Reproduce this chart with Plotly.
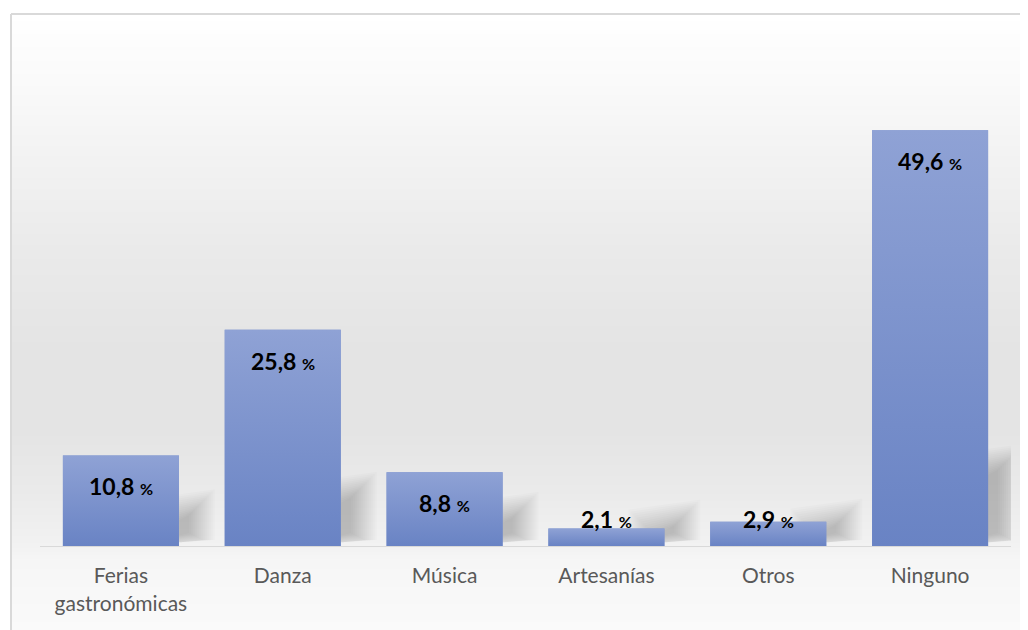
import base64
import struct
import zlib

import plotly.graph_objects as go

# ---------------- data ----------------
categories = ["Ferias<br>gastronómicas", "Danza", "Música", "Artesanías", "Otros", "Ninguno"]
values = [10.8, 25.8, 8.8, 2.1, 2.9, 49.6]
value_labels = ["10,8", "25,8", "8,8", "2,1", "2,9", "49,6"]

# ---------------- layout constants (page pixels) ----------------
OFF = 8                      # default body margin of the html page
PAGE_W, PAGE_H = 1028, 630
W, H = PAGE_W - OFF, PAGE_H - OFF
PLOT_L, PLOT_R, PLOT_T, PLOT_B = 40, 1011, 43, 546   # page coords
M_L, M_R, M_T, M_B = PLOT_L - OFF, PAGE_W - PLOT_R, PLOT_T - OFF, PAGE_H - PLOT_B
PLOT_W = PLOT_R - PLOT_L
PLOT_H = PLOT_B - PLOT_T
Y_MAX = 60
BAR_W = 0.717
PX_PER_UNIT = PLOT_H / Y_MAX
CAT_PX = PLOT_W / len(categories)

BAR_TOP = "#8fa2d5"
BAR_BOTTOM = "#6983c4"
FONT = "Lato, 'Open Sans', sans-serif"


def px_to_paper_x(px):
    return (px - PLOT_L) / PLOT_W


def px_to_paper_y(py):
    return (PLOT_B - py) / PLOT_H


# ---------------- background gradient as a tiny PNG ----------------
grad_stops = [(14, 255), (80, 250), (150, 243), (250, 234), (350, 228),
              (430, 228), (490, 234), (546, 242), (560, 246), (630, 250)]


def gray_at(py):
    for (a, ga), (b, gb) in zip(grad_stops, grad_stops[1:]):
        if a <= py <= b:
            t = (py - a) / (b - a)
            return int(round(ga + (gb - ga) * t))
    return grad_stops[-1][1]


def make_png(rows):
    raw = b"".join(b"\x00" + bytes([g, g, g]) for g in rows)

    def chunk(tag, data):
        c = struct.pack(">I", len(data)) + tag + data
        return c + struct.pack(">I", zlib.crc32(tag + data) & 0xffffffff)
    png = b"\x89PNG\r\n\x1a\n"
    png += chunk(b"IHDR", struct.pack(">IIBBBBB", 1, len(rows), 8, 2, 0, 0, 0))
    png += chunk(b"IDAT", zlib.compress(raw))
    png += chunk(b"IEND", b"")
    return "data:image/png;base64," + base64.b64encode(png).decode()


BG_TOP, BG_BOTTOM, BG_LEFT = 14, PAGE_H, 11
bg_rows = [gray_at(py) for py in range(BG_TOP, BG_BOTTOM)]
bg_uri = make_png(bg_rows)

fig = go.Figure()

x_idx = list(range(len(categories)))

# base bars
fig.add_trace(go.Bar(
    x=x_idx, y=values, width=BAR_W,
    marker=dict(color="#7b91cc", line=dict(width=0)),
    hoverinfo="skip", showlegend=False,
))

# gradient overlay for each bar
for i, v in zip(x_idx, values):
    x0, x1 = i - BAR_W / 2, i + BAR_W / 2
    fig.add_trace(go.Scatter(
        x=[x0, x1, x1, x0, x0], y=[0, 0, v, v, 0],
        mode="lines", line=dict(width=0), fill="toself",
        fillgradient=dict(type="vertical",
                          colorscale=[[0, BAR_BOTTOM], [1, BAR_TOP]]),
        hoverinfo="skip", showlegend=False,
    ))

shapes = []
# soft shadows at the lower-right of each bar (stacked translucent layers)
N_LAYERS = 14
for i, v in zip(x_idx, values):
    h_px = v * PX_PER_UNIT
    sh_h = 16 + 0.14 * h_px
    core_w, rise = 10, 10
    for k in range(N_LAYERS):
        e = (N_LAYERS - 1 - k) * 2.0      # expansion in px, largest first
        lx = -10 - e
        rx = core_w + e
        y_lo = max(1.0, 8 - e * 0.5)
        y_hi = sh_h - 8 + e
        pts = [(lx, y_lo), (rx, y_lo + rise * 0.5), (rx, y_hi + rise), (lx, y_hi)]
        xr = i + BAR_W / 2
        path = "M " + " L ".join(
            f"{xr + px / CAT_PX} {py / PX_PER_UNIT}" for px, py in pts) + " Z"
        shapes.append(dict(type="path", path=path, xref="x", yref="y",
                           fillcolor="rgba(0,0,0,0.016)", line=dict(width=0),
                           layer="below"))

# chart-area border (top and left visible)
shapes.append(dict(type="line", xref="paper", yref="paper",
                   x0=px_to_paper_x(BG_LEFT), x1=px_to_paper_x(PAGE_W + 5),
                   y0=px_to_paper_y(BG_TOP), y1=px_to_paper_y(BG_TOP),
                   line=dict(color="#d9d9d9", width=2), layer="above"))
shapes.append(dict(type="line", xref="paper", yref="paper",
                   x0=px_to_paper_x(BG_LEFT), x1=px_to_paper_x(BG_LEFT),
                   y0=px_to_paper_y(BG_TOP), y1=px_to_paper_y(PAGE_H + 5),
                   line=dict(color="#d9d9d9", width=2), layer="above"))

# value labels
LABEL_OFFSET = 31 / PX_PER_UNIT
LABEL_MIN = 27 / PX_PER_UNIT
annotations = []
for i, v, lab in zip(x_idx, values, value_labels):
    annotations.append(dict(
        x=i, y=max(v - LABEL_OFFSET, LABEL_MIN), xref="x", yref="y",
        text=f"<b>{lab} <span style='font-size:16px'>%</span></b>",
        showarrow=False, yanchor="middle", xanchor="center",
        font=dict(family=FONT, size=23, color="#000000"),
    ))

fig.update_layout(
    width=W, height=H,
    margin=dict(l=M_L, r=M_R, t=M_T, b=M_B, pad=0),
    paper_bgcolor="white",
    plot_bgcolor="rgba(0,0,0,0)",
    bargap=1 - BAR_W,
    shapes=shapes,
    annotations=annotations,
    images=[dict(source=bg_uri, xref="paper", yref="paper",
                 x=px_to_paper_x(BG_LEFT), y=px_to_paper_y(BG_TOP),
                 sizex=px_to_paper_x(PAGE_W) - px_to_paper_x(BG_LEFT),
                 sizey=px_to_paper_y(BG_TOP) - px_to_paper_y(BG_BOTTOM),
                 xanchor="left", yanchor="top", sizing="stretch",
                 layer="below")],
    xaxis=dict(range=[-0.5, len(categories) - 0.5], tickmode="array",
               tickvals=x_idx, ticktext=categories,
               tickfont=dict(family=FONT, size=21, color="#595959"),
               ticklabelstandoff=11,
               showgrid=False, zeroline=False, showline=True,
               linecolor="#d9d9d9", linewidth=1, ticks="", fixedrange=True),
    yaxis=dict(range=[0, Y_MAX], visible=False, showgrid=False,
               zeroline=False, fixedrange=True),
    showlegend=False,
)

fig.write_html("out.html")
